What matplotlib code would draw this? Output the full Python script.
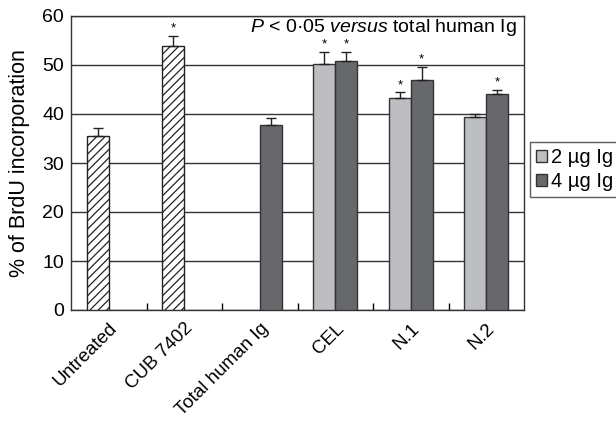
import matplotlib
matplotlib.use("Agg")
import matplotlib.pyplot as plt
import numpy as np
from matplotlib.patches import Patch

plt.rcParams['font.family'] = ['Liberation Sans', 'DejaVu Sans']
plt.rcParams['hatch.linewidth'] = 0.9
plt.rcParams['mathtext.fontset'] = 'custom'
plt.rcParams['mathtext.rm'] = 'Liberation Sans'
plt.rcParams['mathtext.it'] = 'Liberation Sans:italic'

categories = ["Untreated", "CUB 7402", "Total human Ig", "CEL", "N.1", "N.2"]
# slot 0 = left bar, slot 1 = right bar
left_vals = [35.6, 53.8, None, 50.2, 43.3, 39.3]
left_err = [1.6, 2.1, None, 2.4, 1.1, 0.7]
right_vals = [None, None, 37.7, 50.9, 47.0, 44.0]
right_err = [None, None, 1.4, 1.8, 2.6, 0.9]
left_style = ["hatch", "hatch", None, "light", "light", "light"]
right_style = [None, None, "dark", "dark", "dark", "dark"]
left_star = [False, True, False, True, True, False]
right_star = [False, False, False, True, True, True]
legend_labels = ["2 \u00b5g Ig", "4 \u00b5g Ig"]

light = "#bdbec1"
dark = "#67686c"

fig = plt.figure(figsize=(6.16, 4.26), dpi=100)
ax = fig.add_axes([71/616, 1-310/426, (524-71)/616, (310-16)/426])

w = 0.29
x = np.arange(len(categories))

def draw(xpos, val, err, style, star):
    if val is None:
        return
    if style == "hatch":
        ax.bar(xpos, val, w, color="white", edgecolor="#222222", hatch="////", linewidth=1.0, zorder=3)
    else:
        ax.bar(xpos, val, w, color=light if style == "light" else dark, edgecolor="#333333", linewidth=1.0, zorder=3)
    ax.errorbar(xpos, val, yerr=[[0], [err]], fmt="none", ecolor="#222222", elinewidth=1.0, capsize=3.5, capthick=1.0, zorder=4)
    if star:
        ax.text(xpos, val + err + 1.5, "*", ha="center", va="center", fontsize=9.5, zorder=5)

for i in range(len(categories)):
    draw(x[i] - w/2, left_vals[i], left_err[i], left_style[i], left_star[i])
    draw(x[i] + w/2, right_vals[i], right_err[i], right_style[i], right_star[i])

ax.set_xlim(-0.5, len(categories) - 0.5)
ax.set_ylim(0, 60)
ax.set_yticks(range(0, 61, 10))
ax.yaxis.grid(True, color="#333333", linewidth=1.0, zorder=0)
ax.set_axisbelow(True)
ax.tick_params(axis="y", length=0, labelsize=14, pad=5)
ax.set_xticks(x)
ax.set_xticklabels(categories, rotation=45, ha="right", rotation_mode="anchor", fontsize=13.5)
ax.tick_params(axis="x", length=0, pad=7)
ax.set_xticks(np.arange(-0.5, len(categories) + 0.5, 1)[1:-1], minor=True)
ax.tick_params(axis="x", which="minor", direction="in", length=5, width=1.0)
for s in ax.spines.values():
    s.set_linewidth(1.0)
    s.set_color("#333333")
ax.set_ylabel("% of BrdU incorporation", fontsize=15.5, labelpad=9)

ax.text(0.985, 0.997, r"$\it{P}$ < 0·05 $\it{versus}$ total human Ig", transform=ax.transAxes,
        ha="right", va="top", fontsize=14)

handles = [Patch(facecolor=light, edgecolor="#333333"), Patch(facecolor=dark, edgecolor="#333333")]
leg = fig.legend(handles, legend_labels, loc="upper left", bbox_to_anchor=(530/616, 1-142/426),
                 fontsize=14.5, frameon=True, fancybox=False, edgecolor="#333333",
                 handlelength=0.55, handleheight=0.55, handletextpad=0.2, borderpad=0.3,
                 labelspacing=0.25, borderaxespad=0)
leg.get_frame().set_linewidth(1.0)

fig.savefig("out.png", dpi=100)
